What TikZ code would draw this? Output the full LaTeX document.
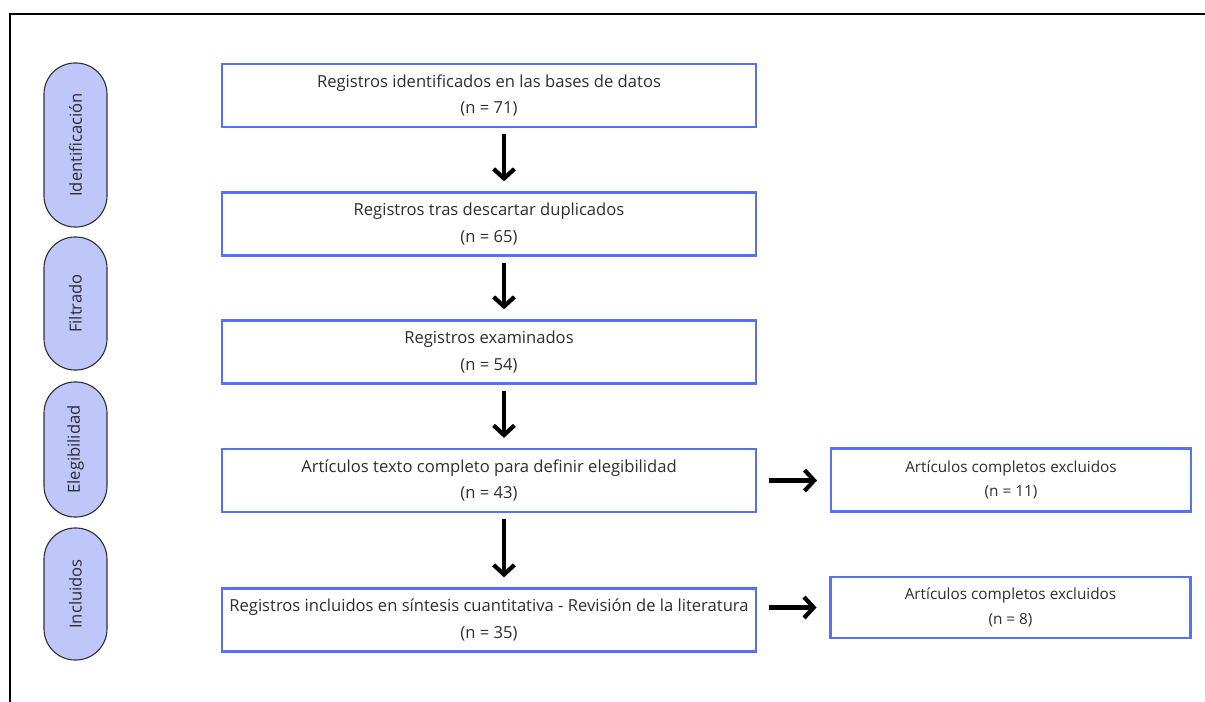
\documentclass[tikz,border=0pt]{standalone}
\usepackage{fontspec}
\setmainfont{Open Sans}
\usetikzlibrary{arrows.meta, calc}

\definecolor{boxblue}{RGB}{88,112,245}
\definecolor{pillfill}{RGB}{190,198,250}
\definecolor{txtgray}{RGB}{45,45,45}

\begin{document}
\begin{tikzpicture}[>={Straight Barb[length=2.4mm, width=5.2mm]}, x=0.025cm, y=-0.025cm,
	stage/.style={draw=boxblue, line width=1.6pt, minimum width=13.35cm, minimum height=1.575cm,
		align=center, text=txtgray, font=\fontsize{11.8}{19}\selectfont},
	excl/.style={stage, minimum width=9cm, font=\fontsize{10.9}{17.5}\selectfont},
	phase/.style={draw=black!80, fill=pillfill, line width=.8pt, rounded corners=.78cm, rotate=90,
		minimum height=1.575cm, text=txtgray, font=\fontsize{11.8}{12}\selectfont},
	flow/.style={->, line width=3pt}]
	\useasboundingbox (0,0) rectangle (1205,702);
%	\draw[gray!50, dashed, step=50] (0,0) grid (1205,702);
	\draw[line width=1.4pt] (1205,14) -| (10,702);
	
	\node[phase, minimum width=4.1cm] (id) at (75.5,145) {Identificación};
	\node[phase, minimum width=3.325cm] (fil) at (75.5,303.5) {Filtrado};
	\node[phase, minimum width=3.375cm] (ele) at (75.5,449.5) {Elegibilidad};
	\node[phase, minimum width=3.3cm] (inc) at (75.5,594) {Incluidos};
	
	\node[stage] (r1) at (489,95.5) {Registros identificados en las bases de datos\\(n = 71)};
	\node[stage] (r2) at (489,224) {Registros tras descartar duplicados\\(n = 65)};
	\node[stage] (r3) at (489,352) {Registros examinados\\(n = 54)};
	\node[stage] (r4) at (489,480.5) {Artículos texto completo para definir elegibilidad\\(n = 43)};
	\node[stage] (r5) at (489,620) {Registros incluidos en síntesis cuantitativa - Revisión de la literatura\\(n = 35)};
	
	\node[excl] (x1) at (1011,480) {Artículos completos excluidos\\(n = 11)};
	\node[excl, minimum height=1.525cm] (x2) at (1010.5,607.5) {Artículos completos excluidos\\(n = 8)};
	
	\foreach \a/\b in {r1/r2, r2/r3, r3/r4, r4/r5}
		\draw[flow, shorten <=.15cm, shorten >=.25cm] ([xshift=.375cm]\a.south) -- ([xshift=.375cm]\b.north);
	\draw[flow, shorten <=.3cm, shorten >=.32cm] (r4.east) -- (r4.east -| x1.west);
	\draw[flow, shorten <=.3cm, shorten >=.32cm] (r5.east |- x2.west) -- (x2.west);
\end{tikzpicture}
\end{document}
